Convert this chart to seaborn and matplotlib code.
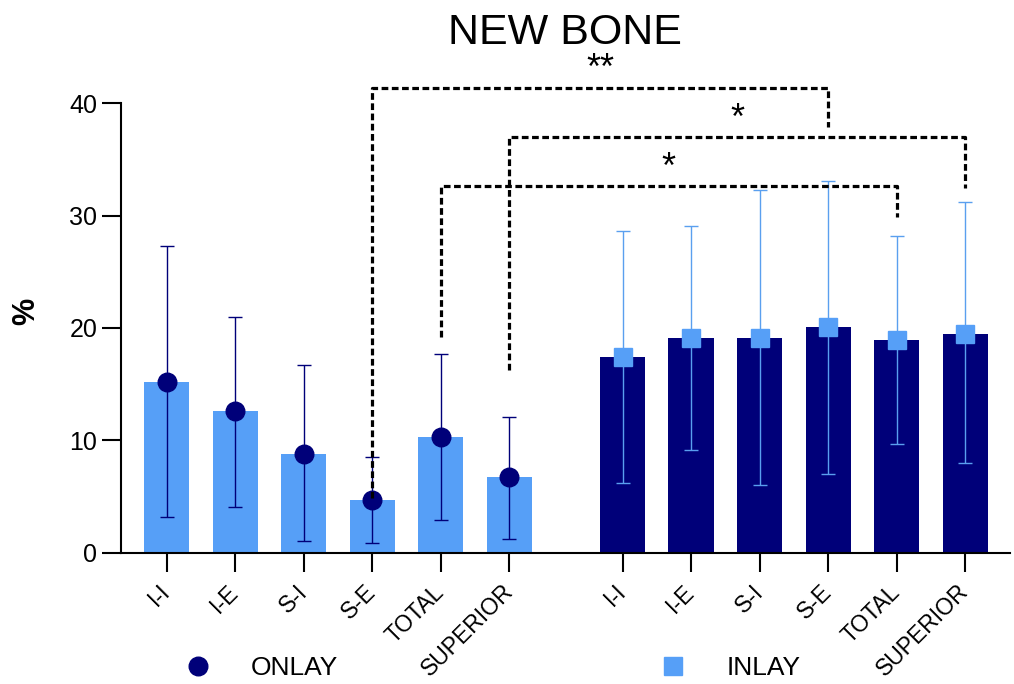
import numpy as np
import matplotlib.pyplot as plt
import pandas as pd
import seaborn as sns
from matplotlib.lines import Line2D

# tick labels (same for both groups)
sites = ['I-I', 'I-E', 'S-I', 'S-E', 'TOTAL', 'SUPERIOR']

# ONLAY group: mean and ends of the error bar
onlay_mean = [15.2, 12.6, 8.8, 4.7, 10.3, 6.7]
onlay_low = [3.2, 4.1, 1.0, 0.9, 2.9, 1.2]
onlay_high = [27.3, 21.0, 16.7, 8.5, 17.7, 12.1]

# INLAY group
inlay_mean = [17.4, 19.1, 19.1, 20.1, 18.9, 19.5]
inlay_low = [6.2, 9.1, 6.0, 7.0, 9.7, 8.0]
inlay_high = [28.6, 29.1, 32.3, 33.1, 28.2, 31.2]

# significance brackets: site, top of bracket, left drop end, right drop end, stars
brackets = [('S-E', 41.4, 4.9, 37.9, '**'),
            ('SUPERIOR', 37.0, 16.3, 32.5, '*'),
            ('TOTAL', 32.6, 19.2, 29.9, '*')]

light = '#569ff7'
navy = '#000079'

sns.set_style('ticks')
plt.rcParams['font.family'] = ['Liberation Sans', 'DejaVu Sans']
plt.rcParams['text.color'] = 'black'
plt.rcParams['xtick.color'] = 'black'
plt.rcParams['ytick.color'] = 'black'
plt.rcParams['axes.labelcolor'] = 'black'

gap = 6.65
x_onlay = np.arange(len(sites))
x_inlay = x_onlay + gap

df = pd.DataFrame({
    'pos': np.concatenate([x_onlay, x_inlay]),
    'value': onlay_mean + inlay_mean,
    'group': ['ONLAY'] * len(sites) + ['INLAY'] * len(sites),
})

fig, ax = plt.subplots(figsize=(10.14, 6.84), dpi=100)
fig.subplots_adjust(left=0.119, right=0.996, bottom=0.192, top=0.849)

sns.barplot(data=df, x='pos', y='value', hue='group',
            palette={'ONLAY': light, 'INLAY': navy}, saturation=1,
            native_scale=True, dodge=False, width=0.66, errorbar=None,
            legend=False, linewidth=0, ax=ax)

# error bars + markers
groups = [(x_onlay, onlay_mean, onlay_low, onlay_high, navy, navy, 'o'),
          (x_inlay, inlay_mean, inlay_low, inlay_high, light, '#5a9fef', 's')]
for xs, means, lows, highs, mcol, ecol, mk in groups:
    yerr = [np.subtract(means, lows), np.subtract(highs, means)]
    ax.errorbar(xs, means, yerr=yerr, fmt='none', ecolor=ecol,
                elinewidth=1, capsize=5, capthick=1, zorder=3)
    ax.plot(xs, means, ls='none', marker=mk, ms=13.4, color=mcol,
            mec=mcol, zorder=4)

# significance brackets
xpos = dict(zip(sites, x_onlay))
for site, top, left_end, right_end, stars in brackets:
    x0 = xpos[site]
    x1 = x0 + gap
    ax.plot([x0, x0, x1, x1], [left_end, top, top, right_end], color='black',
            lw=2.3, ls=(0, (2.1, 1.1)), clip_on=False, zorder=5)
    ax.text((x0 + x1) / 2, top + 1.6, stars, ha='center', va='center',
            fontsize=26)

ax.set_xlim(-0.67, 12.3)
ax.set_ylim(0, 40)
ax.set_yticks([0, 10, 20, 30, 40])
ax.set_xticks(np.concatenate([x_onlay, x_inlay]))
ax.set_xticklabels(sites * 2, rotation=45, ha='right', va='center',
                   rotation_mode='anchor')
ax.tick_params(length=13.7, width=1.5, color='black')
ax.tick_params(axis='x', labelsize=16.5, pad=12)
ax.tick_params(axis='y', labelsize=18, pad=3)
sns.despine(ax=ax)
for s in ['left', 'bottom']:
    ax.spines[s].set_linewidth(1.5)
    ax.spines[s].set_color('black')

ax.set_xlabel('')
ax.set_ylabel('%', fontsize=22, fontweight='bold', va='center')
ax.yaxis.set_label_coords(-0.106, 0.536)
ax.set_title('NEW BONE', fontsize=31, pad=43)

handles = [Line2D([], [], ls='none', marker='o', ms=13.4, color=navy),
           Line2D([], [], ls='none', marker='s', ms=13.4, color=light)]
fig.legend(handles, ['ONLAY', 'INLAY'], ncol=2, loc='center left',
           bbox_to_anchor=(185 / 1014, 1 - 668 / 684), frameon=False,
           fontsize=19, handlelength=1, handletextpad=1.5,
           columnspacing=12.2, borderpad=0, borderaxespad=0)

plt.savefig('out.png', dpi=100)
